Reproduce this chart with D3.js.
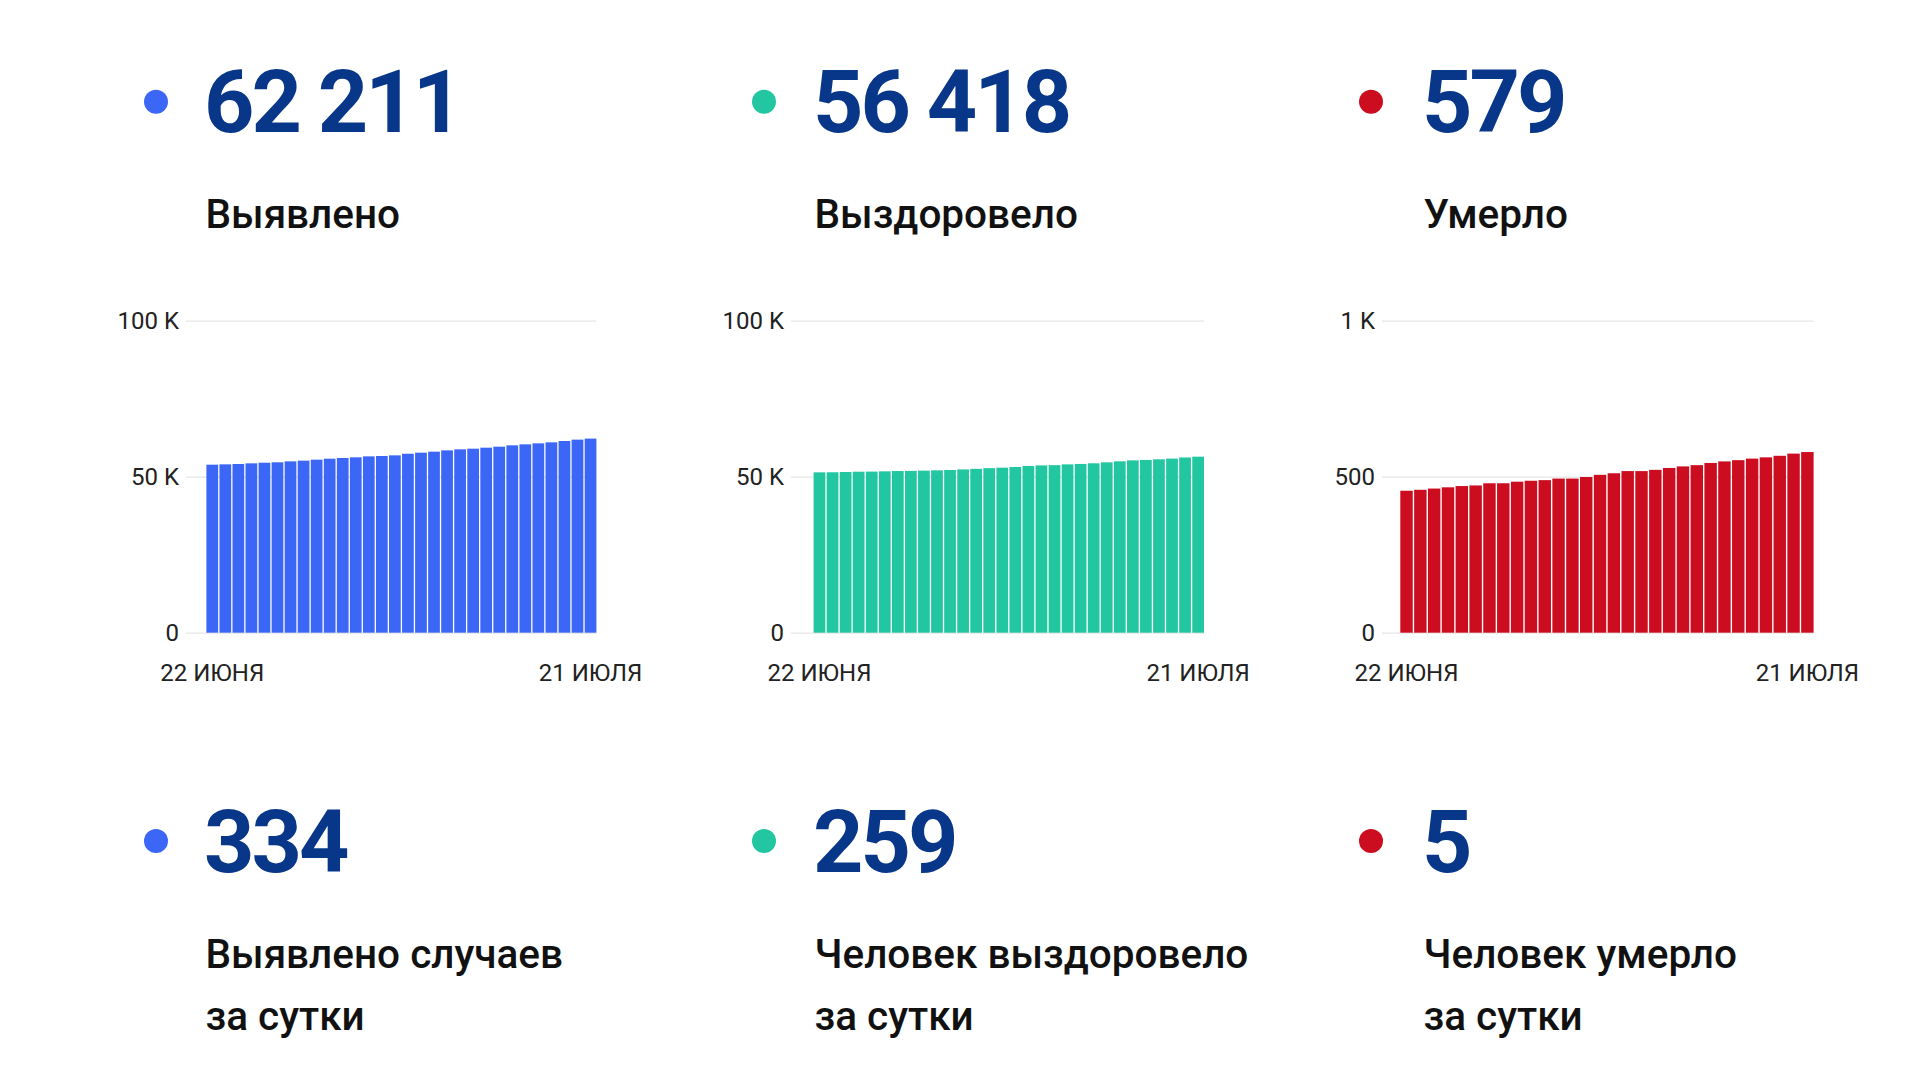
<!DOCTYPE html>
<html><head><meta charset="utf-8">
<script src="https://cdn.jsdelivr.net/npm/d3@7"></script>
<style>
html,body{margin:0;padding:0;background:#fff;}
svg{display:block;font-family:Roboto, "Noto Sans", sans-serif;}
</style>
</head><body>
<svg id="chart" width="1920" height="1080"></svg>
<script>
// ---------- DATA ----------
const days = ["22.06","23.06","24.06","25.06","26.06","27.06","28.06","29.06","30.06",
  "01.07","02.07","03.07","04.07","05.07","06.07","07.07","08.07","09.07","10.07",
  "11.07","12.07","13.07","14.07","15.07","16.07","17.07","18.07","19.07","20.07","21.07"];
const xTickLabels = ["22 ИЮНЯ", "21 ИЮЛЯ"];

const detected = [53850, 53960, 54070, 54280, 54480, 54610, 54920, 55140, 55450, 55770,
  55990, 56210, 56520, 56630, 56840, 57360, 57700, 58020, 58440, 58770,
  58980, 59300, 59620, 60050, 60370, 60690, 61010, 61440, 61877, 62211];
const recovered = [51400, 51420, 51510, 51600, 51640, 51720, 51820, 51860, 51940, 52040,
  52150, 52330, 52520, 52740, 52890, 53110, 53420, 53620, 53700, 53950,
  54080, 54290, 54610, 54930, 55240, 55370, 55570, 55800, 56159, 56418];
const deaths = [455, 458, 462, 466, 470, 472, 479, 479, 484, 487,
  489, 494, 494, 499, 506, 511, 518, 518, 522, 528,
  533, 537, 544, 549, 553, 558, 562, 567, 574, 579];

const totalValues = ["62 211", "56 418", "579"];
const totalLabels = ["Выявлено", "Выздоровело", "Умерло"];
const dailyValues = ["334", "259", "5"];
const dailyLabels = [["Выявлено случаев", "за сутки"], ["Человек выздоровело", "за сутки"], ["Человек умерло", "за сутки"]];

const yTicksCases = [0, 50000, 100000];
const yTickLabelsCases = ["0", "50 K", "100 K"];
const yTicksDeaths = [0, 500, 1000];
const yTickLabelsDeaths = ["0", "500", "1 K"];

// ---------- STYLE / LAYOUT ----------
const colors = ["#3b66f6", "#22c7a1", "#cc0d20"];
const numberColor = "#08378a";
const panels = [
  {series: detected, ticks: yTicksCases, tickLabels: yTickLabelsCases, textX: 207, dotX: 156, gridX0: 186, barX0: 206.4, barX1: 596.4},
  {series: recovered, ticks: yTicksCases, tickLabels: yTickLabelsCases, textX: 816, dotX: 764, gridX0: 791, barX0: 813.6, barX1: 1204},
  {series: deaths, ticks: yTicksDeaths, tickLabels: yTickLabelsDeaths, textX: 1425, dotX: 1371, gridX0: 1382, barX0: 1400.3, barX1: 1813.6}
];
const yTop = 320.7, yBottom = 632.7;
const labelSize = 40.5;

const svg = d3.select("#chart");

panels.forEach((p, i) => {
  const g = svg.append("g");

  // headline (totals)
  g.append("circle").attr("cx", p.dotX).attr("cy", 101.7).attr("r", 12).attr("fill", colors[i]);
  g.append("text").attr("x", p.textX - 3).attr("y", 131.7)
    .attr("font-size", 88).attr("font-weight", 700).attr("fill", numberColor)
    .attr("letter-spacing", -3)
    .text(totalValues[i]);
  g.append("text").attr("x", p.textX - 1.5).attr("y", 228)
    .attr("font-size", labelSize).attr("font-weight", 500).attr("fill", "#111")
    .text(totalLabels[i]);

  // daily
  g.append("circle").attr("cx", p.dotX).attr("cy", 841).attr("r", 12).attr("fill", colors[i]);
  g.append("text").attr("x", p.textX - 3).attr("y", 871.7)
    .attr("font-size", 88).attr("font-weight", 700).attr("fill", numberColor)
    .attr("letter-spacing", -3)
    .text(dailyValues[i]);
  dailyLabels[i].forEach((line, k) => {
    g.append("text").attr("x", p.textX - 1.5).attr("y", 968 + k * 62)
      .attr("font-size", labelSize).attr("font-weight", 500).attr("fill", "#111")
      .text(line);
  });

  // chart
  const y = d3.scaleLinear().domain([0, p.ticks[p.ticks.length - 1]]).range([yBottom, yTop]);
  const x = d3.scaleBand().domain(days).range([p.barX0, p.barX1]).paddingInner(0.1).paddingOuter(0);

  const yAxis = d3.axisLeft(y).tickValues(p.ticks)
    .tickFormat((d, j) => p.tickLabels[j])
    .tickSize(-(p.barX1 - p.gridX0)).tickPadding(7);
  const ya = g.append("g").attr("transform", `translate(${p.gridX0},0)`).call(yAxis);
  ya.select(".domain").remove();
  ya.selectAll("line").attr("stroke", "#e6e6e6").attr("stroke-width", 1.2);
  ya.selectAll("text").attr("font-size", 24).attr("fill", "#222").attr("font-family", "Roboto");

  g.append("g").selectAll("rect").data(p.series).join("rect")
    .attr("x", (d, j) => x(days[j]))
    .attr("width", x.bandwidth())
    .attr("y", d => y(d))
    .attr("height", d => y(0) - y(d))
    .attr("fill", colors[i]);

  const xAxis = d3.axisBottom(x).tickValues([days[0], days[days.length - 1]])
    .tickFormat((d, j) => xTickLabels[j]).tickSize(0).tickPadding(31);
  const xa = g.append("g").attr("transform", `translate(0,${yBottom})`).call(xAxis);
  xa.select(".domain").remove();
  xa.selectAll("text").attr("font-size", 24).attr("fill", "#222").attr("font-family", "Roboto");
});
</script>
</body></html>
